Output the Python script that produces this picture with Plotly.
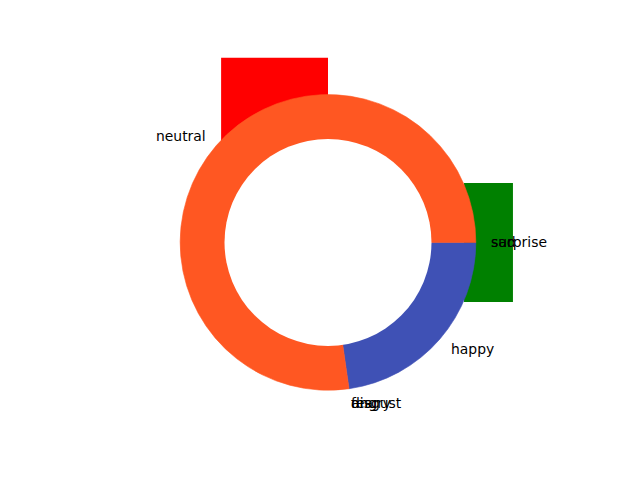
import math
import plotly.graph_objects as go

# pie data (order drawn clockwise from 3 o'clock)
labels = ["sad", "surprise", "happy", "angry", "disgust", "fear", "neutral"]
values = [0, 0, 5, 0, 0, 0, 17]
pie_colors = ["rgba(0,0,0,0)", "rgba(0,0,0,0)", "#3F51B5", "rgba(0,0,0,0)",
              "rgba(0,0,0,0)", "rgba(0,0,0,0)", "#FF5722"]

# background bars (data units)
bar_left = [-0.723, 0.92]
bar_right = [0.0, 1.251]
bar_bottom = [0.0, -0.4025]
bar_top = [1.25, 0.4025]
bar_colors = ["#FF0000", "#008000"]

W, H = 640, 480
ax_x0, ax_x1, ax_y0, ax_y1 = 0.125, 0.9, 0.11, 0.88
lim_y = 1.25
ax_w = (ax_x1 - ax_x0) * W
ax_h = (ax_y1 - ax_y0) * H
scale = ax_h / (2 * lim_y)
lim_x = ax_w / 2 / scale
cx = (ax_x0 + ax_x1) / 2
cy = (ax_y0 + ax_y1) / 2

fig = go.Figure()
fig.add_trace(go.Bar(
    x=[(l + r) / 2 for l, r in zip(bar_left, bar_right)],
    width=[r - l for l, r in zip(bar_left, bar_right)],
    base=bar_bottom,
    y=[t - b for t, b in zip(bar_top, bar_bottom)],
    marker=dict(color=bar_colors, line=dict(width=0)),
    showlegend=False, hoverinfo="skip",
))

rx = scale / W
ry = scale / H
fig.add_trace(go.Pie(
    labels=labels, values=values, sort=False, direction="clockwise", rotation=90,
    marker=dict(colors=pie_colors, line=dict(width=0.6, color=pie_colors)),
    textinfo="none", showlegend=False, hole=0, hoverinfo="skip",
    domain=dict(x=[cx - rx, cx + rx], y=[cy - ry, cy + ry]),
))

total = sum(values)
cum = 0
annotations = []
for lab, v in zip(labels, values):
    mid = -(cum + v / 2) / total * 2 * math.pi
    cum += v
    x = 1.1 * math.cos(mid)
    y = 1.1 * math.sin(mid)
    left = x > 0
    annotations.append(dict(
        x=x, y=y, xref="x", yref="y", text=lab, showarrow=False,
        xanchor="left" if left else "right", yanchor="middle",
        borderpad=0, xshift=-1 if left else 2,
        font=dict(family="DejaVu Sans", size=13.9, color="black"),
    ))

fig.update_layout(
    width=W, height=H, margin=dict(l=0, r=0, t=0, b=0),
    paper_bgcolor="white", plot_bgcolor="rgba(0,0,0,0)",
    xaxis=dict(domain=[ax_x0, ax_x1], range=[-lim_x, lim_x], visible=False, fixedrange=True),
    yaxis=dict(domain=[ax_y0, ax_y1], range=[-lim_y, lim_y], visible=False, fixedrange=True),
    annotations=annotations,
    shapes=[dict(type="circle", xref="x", yref="y", x0=-0.7, x1=0.7, y0=-0.7, y1=0.7,
                 fillcolor="white", line=dict(width=0), layer="above")],
)

fig.write_html("out.html", config={"displayModeBar": False},
               post_script="document.body.style.margin='0';")
